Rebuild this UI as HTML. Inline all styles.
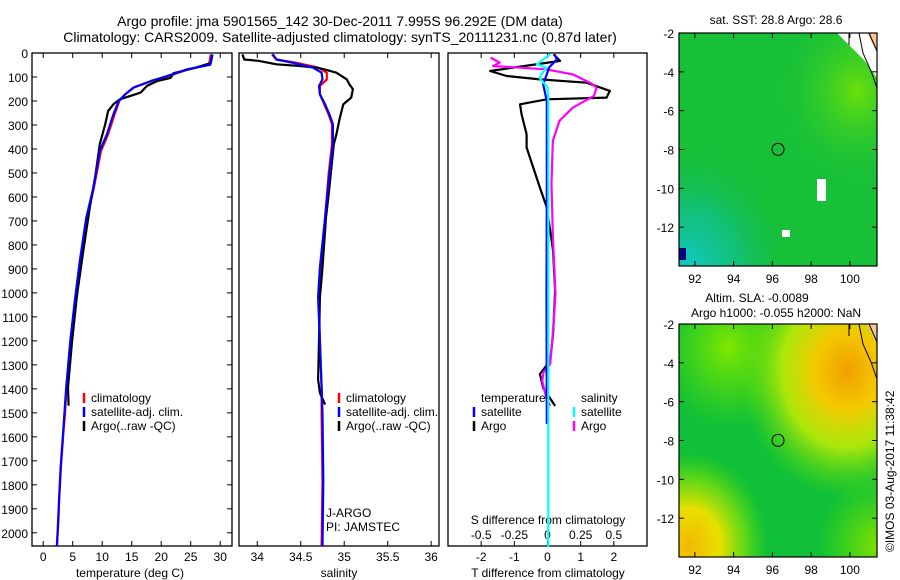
<!DOCTYPE html>
<html><head><meta charset="utf-8"><style>
html,body{margin:0;padding:0;background:#fff}
svg{display:block;font-family:"Liberation Sans",sans-serif}
text{fill:#000}
</style></head><body>
<svg id="c" width="900" height="580" viewBox="0 0 900 580" xmlns="http://www.w3.org/2000/svg">
<defs>
<radialGradient id="g1cyan" cx="0.05" cy="1" r="0.5">
<stop offset="0" stop-color="#10c8c0"/><stop offset="0.5" stop-color="#10c0a0" stop-opacity="0.6"/><stop offset="1" stop-color="#10b850" stop-opacity="0"/></radialGradient>
<radialGradient id="g1yel" cx="0.9" cy="0.25" r="0.4">
<stop offset="0" stop-color="#80e800" stop-opacity="0.8"/><stop offset="1" stop-color="#20c830" stop-opacity="0"/></radialGradient>
<radialGradient id="g2or" cx="0.85" cy="0.2" r="0.55">
<stop offset="0" stop-color="#f0a000"/><stop offset="0.3" stop-color="#f4c800"/><stop offset="0.6" stop-color="#d0f000" stop-opacity="0.8"/><stop offset="1" stop-color="#60e000" stop-opacity="0"/></radialGradient>
<radialGradient id="g2bl" cx="0.05" cy="0.95" r="0.4">
<stop offset="0" stop-color="#f4b800"/><stop offset="0.4" stop-color="#e8e000"/><stop offset="0.7" stop-color="#a0e800" stop-opacity="0.6"/><stop offset="1" stop-color="#60e000" stop-opacity="0"/></radialGradient>
<radialGradient id="g2tl" cx="0.25" cy="0.1" r="0.35">
<stop offset="0" stop-color="#80e800"/><stop offset="1" stop-color="#60e000" stop-opacity="0"/></radialGradient>
<radialGradient id="g2br" cx="1" cy="0.95" r="0.3">
<stop offset="0" stop-color="#80e000"/><stop offset="1" stop-color="#60e000" stop-opacity="0"/></radialGradient>
</defs>
<g id="titles">
<text x="340" y="26" font-size="14" text-anchor="middle">Argo profile: jma 5901565_142 30-Dec-2011 7.995S 96.292E (DM data)</text>
<text x="340" y="42" font-size="14" text-anchor="middle">Climatology: CARS2009. Satellite-adjusted climatology: synTS_20111231.nc (0.87d later)</text>
</g>
<g id="p1"></g>
<g id="p2"></g>
<g id="p3"></g>
<g id="m1"></g>
<g id="m2"></g>
<text transform="translate(894,552) rotate(-90)" font-size="12">©IMOS 03-Aug-2017 11:38:42</text>
</svg>
<script>
// ---- data ----
const depthTicks=[0,100,200,300,400,500,600,700,800,900,1000,1100,1200,1300,1400,1500,1600,1700,1800,1900,2000];
const tTicks=[0,5,10,15,20,25,30];
const sTicks=[34,34.5,35,35.5,36];
const tdTicks=[-2,-1,0,1,2];
const sdTicks=[-0.5,-0.25,0,0.25,0.5];
const sdTickLabels=["-0.5","-0.25","0","0.25","0.5"];
const tempSatDepth=[6,49,68,96,117,144,172,200,256,339,408,561,686,867,1033,1200,1394,1504,1588,1729,1867,1962,2054];
const tempSat=[28.6,28.3,24.4,21.0,18.2,15.3,13.9,12.8,11.9,10.8,9.6,8.5,7.3,6.2,5.35,4.6,3.9,3.6,3.35,2.95,2.67,2.5,2.33];
const tempClim=[28.4,28.1,24.6,21.3,18.4,15.4,13.9,12.9,12.1,11.0,9.8,8.6,7.4,6.3,5.4,4.65,3.95,3.7,3.4,3.0,2.7,2.55,2.3];
const tempArgoDepth=[6,42,63,84,104,117,137,165,179,193,214,242,297,380,519,644,825,1006,1200,1394,1470];
const tempArgo=[28.7,28.4,25.6,22.1,21.6,19.3,17.6,16.5,14.8,13.0,11.9,11.0,10.5,9.6,8.8,7.9,6.8,5.75,4.9,4.2,4.3];
const salSatDepth=[6,27,41,61,82,110,137,172,214,256,297,380,505,686,894,1019,1200,1394,1504,1783,2054];
const salSat=[34.18,34.22,34.41,34.64,34.74,34.75,34.71,34.72,34.78,34.83,34.87,34.87,34.83,34.78,34.72,34.70,34.72,34.74,34.75,34.76,34.75];
const salClim=[34.17,34.22,34.45,34.70,34.80,34.80,34.72,34.72,34.77,34.82,34.86,34.86,34.82,34.78,34.73,34.71,34.72,34.74,34.74,34.75,34.74];
const salArgoDepth=[6,27,33,47,54,61,68,82,110,131,151,186,214,269,339,380,561,686,894,1019,1200,1361,1417,1465];
const salArgo=[33.83,33.85,34.02,34.22,34.49,34.68,34.77,34.91,35.03,35.06,35.10,35.08,34.99,34.95,34.91,34.88,34.83,34.79,34.75,34.72,34.71,34.70,34.72,34.78];
const tdArgoDepth=[6,33,75,96,110,124,158,186,193,214,256,339,394,477,561,644,825,992,1171,1283,1338,1396,1471];
const tdArgo=[0.18,0.38,-1.73,-1.23,-0.23,1.18,1.88,1.78,-0.02,-0.83,-0.78,-0.63,-0.63,-0.43,-0.23,-0.02,0.17,0.23,0.17,0.08,-0.23,-0.13,0.23];
const sdArgoDepth=[19,40,54,68,89,124,144,179,228,283,367,547,756,1006,1171,1297,1331,1366,1436,1471];
const sdArgo=[-0.43,-0.36,-0.41,-0.01,0.19,0.32,0.37,0.35,0.19,0.09,0.04,0.03,0.04,0.06,0.04,0.02,-0.03,-0.04,-0.01,0.02];
const tdSatDepth=[6,27,60,131,200,600,1000,1546];
const tdSat=[0.22,0.28,0.05,-0.13,-0.02,-0.02,-0.03,-0.02];
const sdSatDepth=[6,47,61,103,144,200,2060];
const sdSat=[0.02,-0.08,-0.01,-0.06,0.0,0.006,0.006];
const lonTicks=[92,94,96,98,100];
const latTicks=[-2,-4,-6,-8,-10,-12];
const argoLon=96.292, argoLat=-7.995;

// ---- helpers ----
const NS="http://www.w3.org/2000/svg";
function mk(parent,tag,attrs){const e=document.createElementNS(NS,tag);for(const k in attrs)e.setAttribute(k,attrs[k]);parent.appendChild(e);return e;}
const TOP=53,BOT=546,D0=0,D1=2055;
const yD=d=>TOP+(d-D0)/(D1-D0)*(BOT-TOP);
function lin(a,b,pa,pb){return v=>pa+(v-a)/(b-a)*(pb-pa);}
function frame(g,x0,x1){const r=mk(g,'rect',{x:x0,y:TOP,width:x1-x0,height:BOT-TOP,fill:'none',stroke:'#000','stroke-width':1.3});}
function line(g,xs,ds,xf,color,name,w){
  const pts=xs.map((v,i)=>xf(v).toFixed(1)+','+yD(ds[i]).toFixed(1)).join(' ');
  const p=mk(g,'polyline',{points:pts,fill:'none',stroke:color,'stroke-width':w||2.2,'stroke-linejoin':'round'});
  
  
}
function txt(g,x,y,s,anchor,size){const t=mk(g,'text',{x:x,y:y,'font-size':size||12,'text-anchor':anchor||'start'});t.textContent=s;return t;}
function xticks(g,vals,xf,labels,ly){
  vals.forEach((v,i)=>{const x=xf(v);mk(g,'line',{x1:x,x2:x,y1:TOP,y2:TOP+5,stroke:'#000'});mk(g,'line',{x1:x,x2:x,y1:BOT,y2:BOT-5,stroke:'#000'});
    if(labels){const t=txt(g,x,ly,labels[i],'middle');}});
}
function legend(g,x,y,items){items.forEach((it,i)=>{mk(g,'line',{x1:x,x2:x,y1:y+i*14-9,y2:y+i*14+1,stroke:it[0],'stroke-width':2.5});const t=txt(g,x+7,y+i*14,it[1]);});}

// ---- temperature panel ----
const p1=document.getElementById('p1');
const xT=lin(-1.9,32,32,232);
frame(p1,32,232);
depthTicks.forEach(d=>{const y=yD(d);mk(p1,'line',{x1:32,x2:37,y1:y,y2:y,stroke:'#000'});mk(p1,'line',{x1:232,x2:227,y1:y,y2:y,stroke:'#000'});
  const t=txt(p1,28,y+5,String(d),'end');});
xticks(p1,tTicks,xT,tTicks.map(String),561);
{const t=txt(p1,130,577,'temperature (deg C)','middle');}
line(p1,tempClim,tempSatDepth,xT,'#f00','temp-climatology-line');
line(p1,tempArgo,tempArgoDepth,xT,'#000','temp-argo-line');
line(p1,tempSat,tempSatDepth,xT,'#00f','temp-satellite-line');
legend(p1,84,402,[['#f00','climatology'],['#00f','satellite-adj. clim.'],['#000','Argo(..raw -QC)']]);

// ---- salinity panel ----
const p2=document.getElementById('p2');
const xS=lin(33.79,36.09,239,439);
frame(p2,239,439);
xticks(p2,sTicks,xS,sTicks.map(String),561);
{const t=txt(p2,339,577,'salinity','middle');}
line(p2,salClim,salSatDepth,xS,'#f00','sal-climatology-line');
line(p2,salArgo,salArgoDepth,xS,'#000','sal-argo-line');
line(p2,salSat,salSatDepth,xS,'#00f','sal-satellite-line');
legend(p2,339,402,[['#f00','climatology'],['#00f','satellite-adj. clim.'],['#000','Argo(..raw -QC)']]);
{const t=txt(p2,326,517,'J-ARGO');
 const t2=txt(p2,326,531,'PI: JAMSTEC');}

// ---- difference panel ----
const p3=document.getElementById('p3');
const xTd=lin(-3,3,448,647), xSd=lin(-0.75,0.75,448,647);
frame(p3,448,647);
xticks(p3,tdTicks,xTd,tdTicks.map(String),561);
sdTicks.forEach((v,i)=>{const t=txt(p3,xSd(v),539,sdTickLabels[i],'middle');});
{const t=txt(p3,548,524,'S difference from climatology','middle');
 const t2=txt(p3,548,577,'T difference from climatology','middle');}
line(p3,tdArgo,tdArgoDepth,xTd,'#000','t-diff-argo-line');
line(p3,sdArgo,sdArgoDepth,xSd,'#f0f','s-diff-argo-line');
line(p3,tdSat,tdSatDepth,xTd,'#00f','t-diff-satellite-line');
line(p3,sdSat,sdSatDepth,xSd,'#0ff','s-diff-satellite-line');
{const t=txt(p3,481,402,'temperature');
 const t2=txt(p3,581,402,'salinity');}
legend(p3,474,416,[['#00f','satellite'],['#000','Argo']]);
legend(p3,574,416,[['#0ff','satellite'],['#f0f','Argo']]);

// ---- maps ----
function map(g,top,kind){
  const L=679,R=877,B=top+233;
  const xL=lin(91.18,101.4,L,R), yL=lin(-2,-14,top,top+233);
  if(kind===1){
    mk(g,'rect',{x:L,y:top,width:R-L,height:B-top,fill:'#18c038'});
    mk(g,'rect',{x:L,y:top,width:R-L,height:B-top,fill:'url(#g1cyan)'});
    mk(g,'rect',{x:L,y:top,width:R-L,height:B-top,fill:'url(#g1yel)'});
    mk(g,'rect',{x:L,y:top+215,width:7,height:12,fill:'#000080'});
    mk(g,'rect',{x:817,y:top+146,width:9,height:22,fill:'#fff'});
    mk(g,'rect',{x:782,y:top+197,width:8,height:7,fill:'#fff'});
    mk(g,'polygon',{points:`${R-40},${top} ${R},${top} ${R},${top+45} ${R-12},${top+28}`,fill:'#fff'});
  } else {
    mk(g,'rect',{x:L,y:top,width:R-L,height:B-top,fill:'#10c038'});
    mk(g,'rect',{x:L,y:top,width:R-L,height:B-top,fill:'url(#g2tl)'});
    mk(g,'rect',{x:L,y:top,width:R-L,height:B-top,fill:'url(#g2br)'});
    mk(g,'rect',{x:L,y:top,width:R-L,height:B-top,fill:'url(#g2or)'});
    mk(g,'rect',{x:L,y:top,width:R-L,height:B-top,fill:'url(#g2bl)'});
  }
  mk(g,'polygon',{points:`${R-10},${top} ${R},${top} ${R},${top+20} ${R-4},${top+12}`,fill:'#f8c898'});
  mk(g,'path',{d:`M${R-18},${top} L${R-14},${top+20} L${R-6},${top+38} L${R},${top+55} M${R-8},${top} L${R},${top+18}`,fill:'none',stroke:'#000','stroke-width':1});
  mk(g,'line',{x1:R-28,x2:R-28,y1:top,y2:top+12,stroke:'#000','stroke-width':1});
  mk(g,'rect',{x:L,y:top,width:R-L,height:B-top,fill:'none',stroke:'#000','stroke-width':1.2});
  lonTicks.forEach(v=>{const x=xL(v);mk(g,'line',{x1:x,x2:x,y1:top,y2:top+5,stroke:'#000'});mk(g,'line',{x1:x,x2:x,y1:B,y2:B-5,stroke:'#000'});
    const t=txt(g,x,B+17,String(v),'middle');});
  latTicks.forEach(v=>{const y=yL(v);mk(g,'line',{x1:L,x2:L+5,y1:y,y2:y,stroke:'#000'});mk(g,'line',{x1:R,x2:R-5,y1:y,y2:y,stroke:'#000'});
    const t=txt(g,674,y+5,String(v),'end');});
  const c=mk(g,'circle',{cx:xL(argoLon),cy:yL(argoLat),r:6,fill:'none',stroke:'#000','stroke-width':1});
  
  
}
const m1=document.getElementById('m1'),m2=document.getElementById('m2');
map(m1,33,1);map(m2,324,2);
{const t=txt(m1,776,24,'sat. SST: 28.8 Argo: 28.6','middle');
 const t2=txt(m2,757,302,'Altim. SLA: -0.0089','middle');
 const t3=txt(m2,776,317,'Argo h1000: -0.055 h2000: NaN','middle');}
</script>
</body></html>
